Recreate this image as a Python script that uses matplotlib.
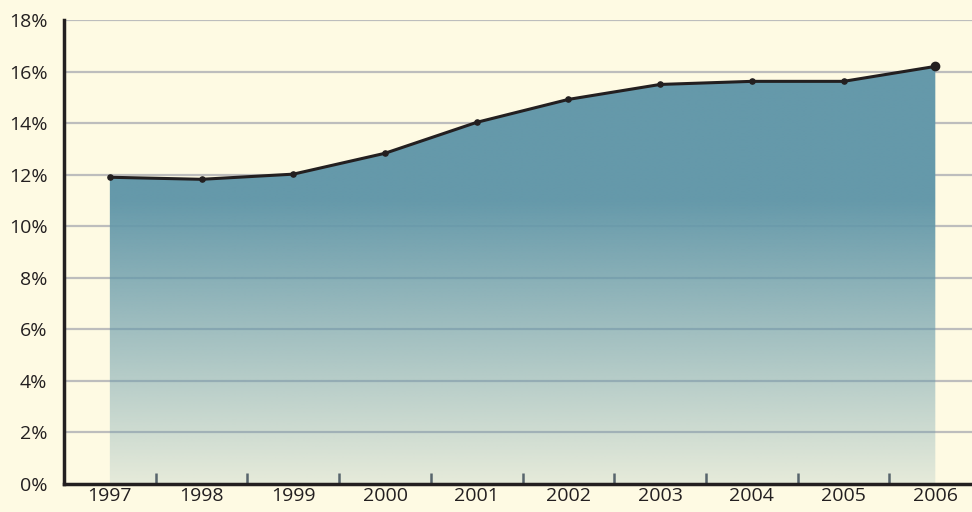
import numpy as np
import matplotlib
matplotlib.use("Agg")
import matplotlib.pyplot as plt
from matplotlib.path import Path
from matplotlib.patches import PathPatch

years = [1997, 1998, 1999, 2000, 2001, 2002, 2003, 2004, 2005, 2006]
values = [11.9, 11.82, 12.02, 12.83, 14.03, 14.92, 15.5, 15.62, 15.62, 16.2]
ytick_vals = [0, 2, 4, 6, 8, 10, 12, 14, 16, 18]
ytick_labels = [f"{v}%" for v in ytick_vals]

plt.rcParams['font.family'] = ['Open Sans', 'DejaVu Sans']

bg = "#fefae3"
fig = plt.figure(figsize=(9.72, 5.12), dpi=100, facecolor=bg)
ax = fig.add_axes([64/972, 28/512, (972-64)/972, 464/512], facecolor=bg)

x0, x1 = 1996.5, 2006.4
ax.set_xlim(x0, x1)
ax.set_ylim(0, 18)

# grid
for v in ytick_vals[1:]:
    ax.axhline(v, color="#bdbdbd", lw=1.6, zorder=1)

# gradient fill clipped to area
teal = np.array([101, 153, 170]) / 255
n = 256
yy = np.linspace(0, 18, n)
alpha = np.clip(0.16 + (1 - 0.16) * (yy / 11.0), 0, 1)
img = np.zeros((n, 2, 4))
img[..., :3] = teal
img[..., 3] = alpha[:, None]
im = ax.imshow(img, extent=[x0, x1, 0, 18], origin="lower", aspect="auto",
               interpolation="bilinear", zorder=2)
verts = [(years[0], 0)] + list(zip(years, values)) + [(years[-1], 0), (years[0], 0)]
codes = [Path.MOVETO] + [Path.LINETO] * (len(verts) - 2) + [Path.CLOSEPOLY]
patch = PathPatch(Path(verts, codes), facecolor="none", edgecolor="none")
ax.add_patch(patch)
im.set_clip_path(patch)

ax.plot(years, values, color="#231f20", lw=2.2, zorder=4, solid_capstyle="round")
ax.scatter(years[:-1], values[:-1], s=14, color="#231f20", zorder=5)
ax.scatter(years[-1:], values[-1:], s=36, color="#231f20", zorder=5)

for s in ["top", "right"]:
    ax.spines[s].set_visible(False)
for s in ["left", "bottom"]:
    ax.spines[s].set_color("#231f20")
    ax.spines[s].set_linewidth(2.5)
    ax.spines[s].set_zorder(6)

ax.set_yticks(ytick_vals)
ax.set_yticklabels(ytick_labels)
ax.set_xticks(years)
ax.set_xticklabels([str(y) for y in years])
ax.set_xticks([y + 0.5 for y in years[:-1]], minor=True)
ax.tick_params(axis="both", which="major", length=0, labelsize=14, colors="#231f20")
ax.tick_params(axis="x", which="major", pad=2)
ax.tick_params(axis="y", which="major", pad=12)
ax.tick_params(axis="x", which="minor", direction="in", length=8, width=1.8, color="#555a60")

fig.savefig("out.png", dpi=100, facecolor=bg)
